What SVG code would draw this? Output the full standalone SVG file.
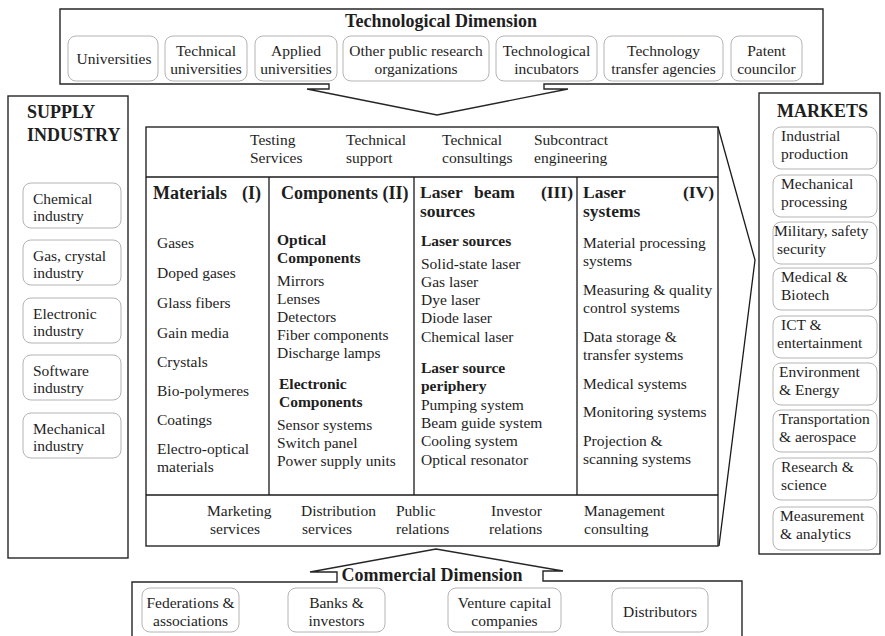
<svg xmlns="http://www.w3.org/2000/svg" width="885" height="636" viewBox="0 0 885 636">
<style>
text{font-family:"Liberation Serif","Times New Roman",serif;font-size:15.5px;fill:#1e1e1e}
.b{font-weight:bold}
.t{font-weight:bold;font-size:18px}
.h{font-weight:bold;font-size:17.5px}
.c{text-anchor:middle}
.e{text-anchor:end}
.ob{fill:#fff;stroke:#262626;stroke-width:1.4}
.ib{fill:#fff;stroke:#b4b4b4;stroke-width:1}
.ln{fill:none;stroke:#1a1a1a;stroke-width:1.3}
</style>
<rect width="885" height="636" fill="#fff"/>

<g id="technological">
<path class="ob" d="M60,9 H823 V84 H544 V89 H568 L437,115 L307,89 H329 V84 H60 Z"/>
<text class="t c" x="441" y="27">Technological Dimension</text>
<rect class="ib" x="68" y="36" width="90" height="45" rx="8"/>
<text class="c" x="114" y="64">Universities</text>
<rect class="ib" x="165" y="36" width="82" height="45" rx="8"/>
<text class="c" x="206" y="56">Technical</text><text class="c" x="206" y="74">universities</text>
<rect class="ib" x="255" y="36" width="82" height="45" rx="8"/>
<text class="c" x="296" y="56">Applied</text><text class="c" x="296" y="74">universities</text>
<rect class="ib" x="343" y="36" width="146" height="45" rx="8"/>
<text class="c" x="416" y="56">Other public research</text><text class="c" x="416" y="74">organizations</text>
<rect class="ib" x="496" y="36" width="101" height="45" rx="8"/>
<text class="c" x="546.5" y="56">Technological</text><text class="c" x="546.5" y="74">incubators</text>
<rect class="ib" x="604" y="36" width="119" height="45" rx="8"/>
<text class="c" x="663.5" y="56">Technology</text><text class="c" x="663.5" y="74">transfer agencies</text>
<rect class="ib" x="731" y="36" width="71" height="45" rx="8"/>
<text class="c" x="766.5" y="56">Patent</text><text class="c" x="766.5" y="74">councilor</text>
</g>

<g id="supply">
<rect class="ob" x="8" y="96" width="120" height="462"/>
<text class="t" x="27" y="118">SUPPLY</text>
<text class="t" x="27" y="141">INDUSTRY</text>
<rect class="ib" x="23" y="183" width="98" height="45" rx="8"/>
<text x="33" y="204">Chemical</text><text x="33" y="221">industry</text>
<rect class="ib" x="23" y="240" width="98" height="45" rx="8"/>
<text x="33" y="261">Gas, crystal</text><text x="33" y="278">industry</text>
<rect class="ib" x="23" y="298" width="98" height="45" rx="8"/>
<text x="33" y="319">Electronic</text><text x="33" y="336">industry</text>
<rect class="ib" x="23" y="355" width="98" height="45" rx="8"/>
<text x="33" y="376">Software</text><text x="33" y="393">industry</text>
<rect class="ib" x="23" y="413" width="98" height="45" rx="8"/>
<text x="33" y="434">Mechanical</text><text x="33" y="451">industry</text>
</g>

<g id="markets">
<rect class="ob" x="759" y="93" width="121" height="461"/>
<text class="t" x="777" y="117">MARKETS</text>
<rect class="ib" x="773" y="127" width="104" height="42" rx="8"/>
<text x="781" y="141">Industrial</text><text x="781" y="159">production</text>
<rect class="ib" x="773" y="175" width="104" height="42" rx="8"/>
<text x="781" y="189">Mechanical</text><text x="781" y="207">processing</text>
<rect class="ib" x="773" y="222" width="104" height="42" rx="8"/>
<text x="774" y="236">Military, safety</text><text x="777" y="254">security</text>
<rect class="ib" x="773" y="268" width="104" height="42" rx="8"/>
<text x="781" y="282">Medical &amp;</text><text x="781" y="300">Biotech</text>
<rect class="ib" x="773" y="316" width="104" height="42" rx="8"/>
<text x="781" y="330">ICT  &amp;</text><text x="777" y="348">entertainment</text>
<rect class="ib" x="773" y="363" width="104" height="42" rx="8"/>
<text x="779" y="377">Environment</text><text x="779" y="395">&amp; Energy</text>
<rect class="ib" x="773" y="410" width="104" height="42" rx="8"/>
<text x="779" y="424">Transportation</text><text x="779" y="442">&amp; aerospace</text>
<rect class="ib" x="773" y="458" width="104" height="42" rx="8"/>
<text x="781" y="472">Research &amp;</text><text x="781" y="490">science</text>
<rect class="ib" x="773" y="507" width="104" height="43" rx="8"/>
<text x="780" y="521">Measurement</text><text x="780" y="539">&amp; analytics</text>
</g>

<g id="central">
<rect class="ob" x="146" y="127" width="572" height="419"/>
<line class="ln" x1="146" y1="177" x2="718" y2="177"/>
<line class="ln" x1="146" y1="495" x2="718" y2="495"/>
<line class="ln" x1="269" y1="177" x2="269" y2="495"/>
<line class="ln" x1="414" y1="177" x2="414" y2="495"/>
<line class="ln" x1="577" y1="177" x2="577" y2="495"/>
</g>

<g id="services-top">
<text x="250" y="145">Testing</text><text x="250" y="163">Services</text>
<text x="346" y="145">Technical</text><text x="346" y="163">support</text>
<text x="442" y="145">Technical</text><text x="442" y="163">consultings</text>
<text x="534" y="145">Subcontract</text><text x="534" y="163">engineering</text>
</g>

<g id="materials">
<text class="t" x="153" y="199">Materials</text><text class="t" x="242" y="199">(I)</text>
<text x="157" y="248">Gases</text>
<text x="157" y="278">Doped gases</text>
<text x="157" y="308">Glass fibers</text>
<text x="157" y="338">Gain media</text>
<text x="157" y="367">Crystals</text>
<text x="157" y="396">Bio-polymeres</text>
<text x="157" y="425">Coatings</text>
<text x="157" y="454">Electro-optical</text>
<text x="157" y="472">materials</text>
</g>

<g id="components">
<text class="t" x="281" y="199">Components (II)</text>
<text class="b" x="277" y="245">Optical</text>
<text class="b" x="277" y="263">Components</text>
<text x="277" y="286">Mirrors</text>
<text x="277" y="304">Lenses</text>
<text x="277" y="322">Detectors</text>
<text x="277" y="340">Fiber components</text>
<text x="277" y="358">Discharge lamps</text>
<text class="b" x="279" y="389">Electronic</text>
<text class="b" x="279" y="407">Components</text>
<text x="277" y="430">Sensor systems</text>
<text x="277" y="448">Switch panel</text>
<text x="277" y="466">Power supply units</text>
</g>

<g id="laser-sources">
<text class="h" x="420" y="198">Laser</text><text class="h" x="474" y="198">beam</text>
<text class="h e" x="573" y="198">(III)</text>
<text class="h" x="420" y="217">sources</text>
<text class="b" x="421" y="246">Laser sources</text>
<text x="421" y="269">Solid-state laser</text>
<text x="421" y="287">Gas laser</text>
<text x="421" y="305">Dye laser</text>
<text x="421" y="323">Diode laser</text>
<text x="421" y="342">Chemical laser</text>
<text class="b" x="421" y="373">Laser source</text>
<text class="b" x="421" y="391">periphery</text>
<text x="421" y="410">Pumping system</text>
<text x="421" y="428">Beam guide system</text>
<text x="421" y="446">Cooling system</text>
<text x="421" y="465">Optical resonator</text>
</g>

<g id="laser-systems">
<text class="h" x="583" y="198">Laser</text><text class="h e" x="714" y="198">(IV)</text>
<text class="h" x="583" y="217">systems</text>
<text x="583" y="248">Material processing</text>
<text x="583" y="266">systems</text>
<text x="583" y="295">Measuring &amp; quality</text>
<text x="583" y="313">control systems</text>
<text x="583" y="342">Data storage &amp;</text>
<text x="583" y="360">transfer systems</text>
<text x="583" y="389">Medical systems</text>
<text x="583" y="417">Monitoring systems</text>
<text x="583" y="446">Projection &amp;</text>
<text x="583" y="464">scanning systems</text>
</g>

<g id="services-bottom">
<text x="207" y="516">Marketing</text><text x="210" y="534">services</text>
<text x="301" y="516">Distribution</text><text x="302" y="534">services</text>
<text x="396" y="516">Public</text><text x="396" y="534">relations</text>
<text x="491" y="516">Investor</text><text x="489" y="534">relations</text>
<text x="584" y="516">Management</text><text x="584" y="534">consulting</text>
</g>

<g id="commercial">
<path class="ob" d="M132,640 V582 H337 V572 H310 L436,549 L563,571 H543 V581 H742 V640"/>
<text class="t c" x="432" y="581">Commercial Dimension</text>
<rect class="ib" x="142" y="588" width="97" height="44" rx="8"/>
<text class="c" x="190.5" y="608">Federations &amp;</text><text class="c" x="190.5" y="626">associations</text>
<rect class="ib" x="288" y="588" width="97" height="44" rx="8"/>
<text class="c" x="336.5" y="608">Banks &amp;</text><text class="c" x="336.5" y="626">investors</text>
<rect class="ib" x="448" y="588" width="113" height="44" rx="8"/>
<text class="c" x="504.5" y="608">Venture capital</text><text class="c" x="504.5" y="626">companies</text>
<rect class="ib" x="612" y="588" width="96" height="44" rx="8"/>
<text class="c" x="660" y="617">Distributors</text>
</g>

<g id="connectors">
<polyline class="ln" points="718,127 755,260 719,546"/>
</g>
</svg>
